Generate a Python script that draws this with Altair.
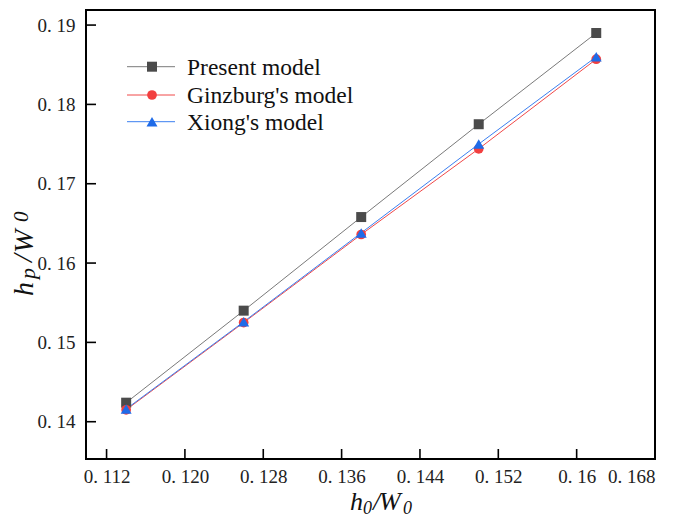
import json
import altair as alt
import pandas as pd

# ---- data ----
x_vals = [0.114, 0.126, 0.138, 0.150, 0.162]
present = [0.1424, 0.1540, 0.1658, 0.1775, 0.1890]
ginzburg = [0.1415, 0.1525, 0.1636, 0.1744, 0.1857]
xiong = [0.1416, 0.1526, 0.1638, 0.1750, 0.1860]
series_names = ["Present model", "Ginzburg's model", "Xiong's model"]

x_ticks = [0.112, 0.120, 0.128, 0.136, 0.144, 0.152, 0.160, 0.168]
x_tick_labels = ["0. 112", "0. 120", "0. 128", "0. 136", "0. 144", "0. 152", "0. 16", "0. 168"]
y_ticks = [0.14, 0.15, 0.16, 0.17, 0.18, 0.19]
y_tick_labels = ["0. 14", "0. 15", "0. 16", "0. 17", "0. 18", "0. 19"]

# ---- layout / style ----
W, H = 569, 449
XDOM = [0.1099, 0.168]
YDOM = [0.1353, 0.1919]
SERIF = "Liberation Serif"
line_colors = ["#7a7a7a", "#f04848", "#3b7ff0"]
mark_colors = ["#4b4b4b", "#f23f3f", "#1f6be8"]
shapes = ["square", "circle", "triangle-up"]
sizes = [100, 95, 120]

xs = alt.Scale(domain=XDOM, nice=False, zero=False)
ys = alt.Scale(domain=YDOM, nice=False, zero=False)

x_label_expr = json.dumps(x_tick_labels) + "[round((datum.value-0.112)/0.008)]"
y_label_expr = json.dumps(y_tick_labels) + "[round((datum.value-0.14)/0.01)]"

x_axis = alt.Axis(values=x_ticks, labelExpr=x_label_expr, ticks=False, domain=False,
                  grid=False, title=None, labelFont=SERIF, labelFontSize=19,
                  labelColor="#222", labelPadding=8)
y_axis = alt.Axis(values=y_ticks, labelExpr=y_label_expr, ticks=False, domain=False,
                  grid=False, title=None, labelFont=SERIF, labelFontSize=19,
                  labelColor="#222", labelPadding=11)


def X(field):
    return alt.X(field, type="quantitative", scale=xs, axis=x_axis)


def Y(field):
    return alt.Y(field, type="quantitative", scale=ys, axis=y_axis)


one = pd.DataFrame({"a": [0]})
layers = []
for name, vals, lc in zip(series_names, [present, ginzburg, xiong], line_colors):
    df = pd.DataFrame({"x": x_vals, "y": vals, "series": name})
    layers.append(alt.Chart(df).mark_line(color=lc, strokeWidth=1).encode(x=X("x"), y=Y("y")))
for name, vals, mc, shp, sz in zip(series_names, [present, ginzburg, xiong],
                                   mark_colors, shapes, sizes):
    df = pd.DataFrame({"x": x_vals, "y": vals, "series": name})
    layers.append(alt.Chart(df).mark_point(shape=shp, filled=True, color=mc, opacity=1,
                                           size=sz, strokeWidth=0)
                  .encode(x=X("x"), y=Y("y")))

# frame drawn as four rules
frame_style = dict(color="#000000", strokeWidth=2, strokeCap="square")
layers.append(alt.Chart(one).mark_rule(**frame_style)
              .encode(x=alt.value(0), x2=alt.value(W), y=alt.value(0)))
layers.append(alt.Chart(one).mark_rule(**frame_style)
              .encode(x=alt.value(0), x2=alt.value(W), y=alt.value(H)))
layers.append(alt.Chart(one).mark_rule(**frame_style)
              .encode(x=alt.value(0), y=alt.value(0), y2=alt.value(H)))
layers.append(alt.Chart(one).mark_rule(**frame_style)
              .encode(x=alt.value(W), y=alt.value(0), y2=alt.value(H)))

# inward ticks
xt = pd.DataFrame({"v": x_ticks})
yt = pd.DataFrame({"v": y_ticks})
layers.append(alt.Chart(xt).mark_rule(color="#000000", strokeWidth=1.6)
              .encode(x=X("v"), y=alt.value(H - 10), y2=alt.value(H)))
layers.append(alt.Chart(yt).mark_rule(color="#000000", strokeWidth=1.6)
              .encode(y=Y("v"), x=alt.value(0), x2=alt.value(10)))

# legend (decoration inside the plot)
row_y = [56.7, 85, 111.7]
for i, name in enumerate(series_names):
    ry = row_y[i]
    layers.append(alt.Chart(one).mark_rule(color=line_colors[i], strokeWidth=1)
                  .encode(x=alt.value(41), x2=alt.value(89), y=alt.value(ry)))
    layers.append(alt.Chart(one).mark_point(shape=shapes[i], filled=True, color=mark_colors[i],
                                            opacity=1, size=sizes[i], strokeWidth=0)
                  .encode(x=alt.value(66), y=alt.value(ry)))
    layers.append(alt.Chart(one).mark_text(text=name, font=SERIF, fontSize=23.5, color="#111",
                                           align="left", baseline="middle")
                  .encode(x=alt.value(101), y=alt.value(ry + 1)))


# axis titles with subscripts (page coords -> plot coords: x-86, y-10)
def piece(txt, px, py, fs, angle=0):
    kw = dict(text=txt, font=SERIF, fontSize=fs, fontStyle="italic", color="#111",
              align="left", baseline="alphabetic")
    if angle:
        kw["angle"] = angle
    return alt.Chart(one).mark_text(**kw).encode(x=alt.value(px - 86), y=alt.value(py - 10))


# x title: h0/W0
layers += [
    piece("h", 350, 510, 26),
    piece("0", 363, 514, 18),
    piece("/", 373, 510, 26),
    piece("W", 379, 510, 26),
    piece("0", 403, 514, 18),
]
# y title: hp/W0 (rotated)
layers += [
    piece("h", 33, 296, 28, 270),
    piece("p", 35, 279, 22, 270),
    piece("/", 32, 262, 28, 270),
    piece("W", 33, 253, 28, 270),
    piece("0", 28, 222, 21, 270),
]

chart = alt.layer(*layers).properties(
    width=W, height=H,
    autosize=alt.AutoSizeParams(type="none"),
    padding={"left": 78, "top": 2, "right": 22, "bottom": 58},
    background="white",
).configure_view(stroke="transparent", strokeWidth=0)

chart.save("out.html", embed_options={"renderer": "svg", "actions": False})
